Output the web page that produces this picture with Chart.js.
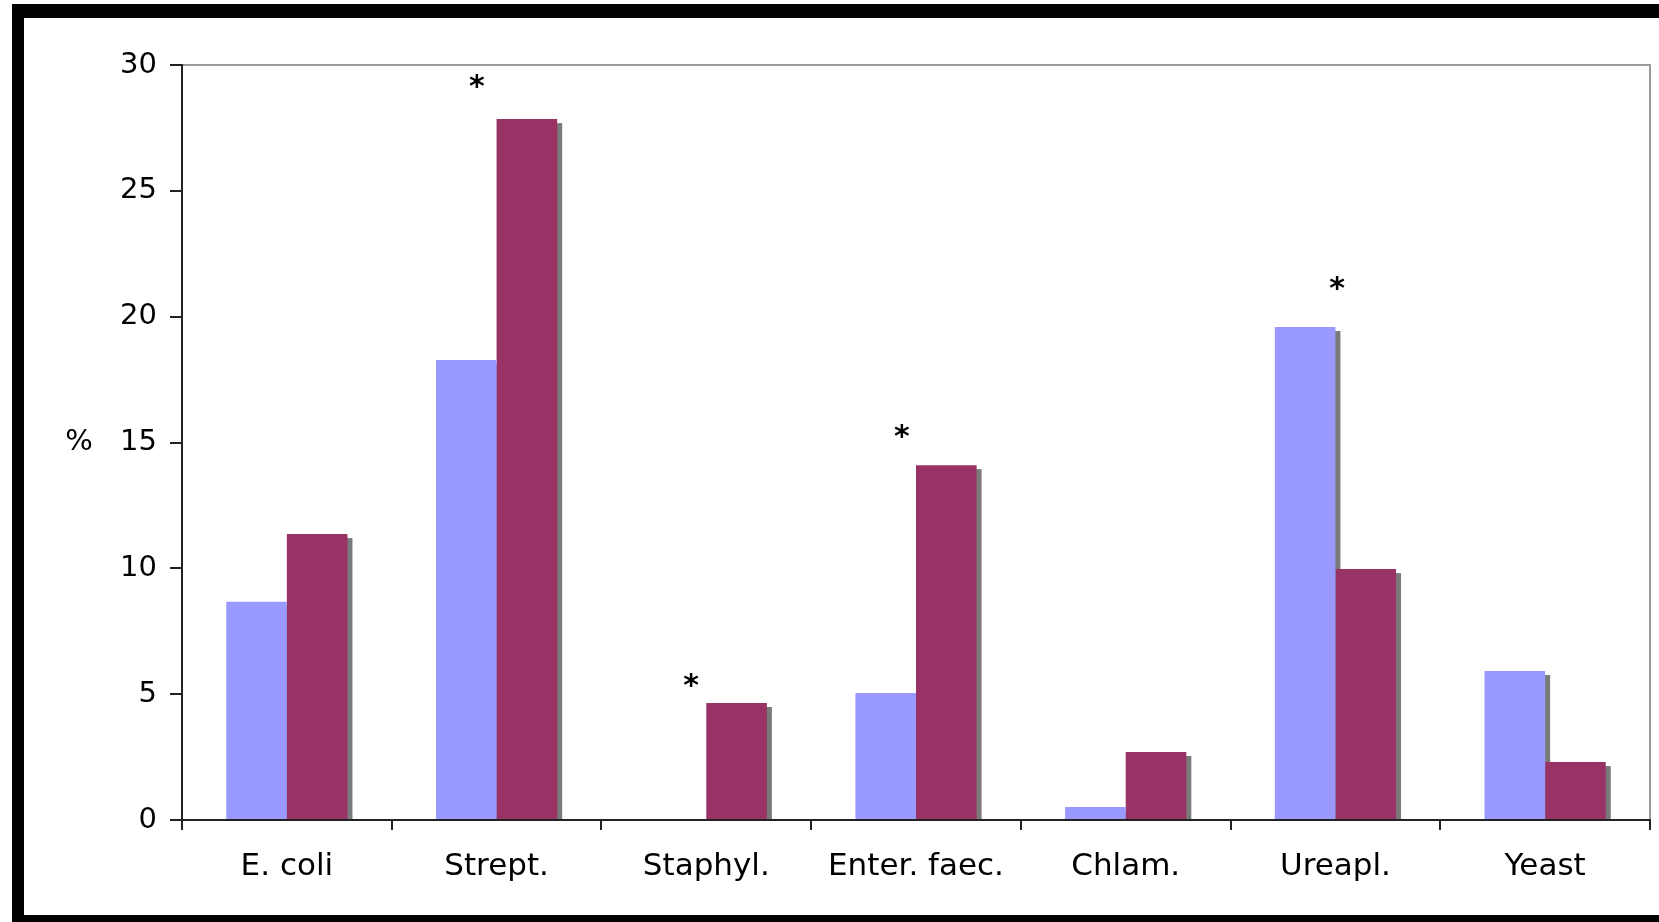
<!DOCTYPE html>
<html>
<head>
<meta charset="utf-8">
<script src="https://cdn.jsdelivr.net/npm/chart.js@4"></script>
<style>
  html, body { margin: 0; padding: 0; background: #fff; overflow: hidden; }
  #frame {
    position: absolute; left: 12px; top: 4px; width: 1700px; height: 925px;
    box-sizing: border-box; border: solid #000; border-width: 14px 0 14px 12px;
  }
  #wrap { position: absolute; left: 0; top: 0; width: 1659px; height: 922px; }
</style>
</head>
<body>
<div id="frame"></div>
<div id="wrap"><canvas id="chart"></canvas></div>
<script>
  const categories = ["E. coli", "Strept.", "Staphyl.", "Enter. faec.", "Chlam.", "Ureapl.", "Yeast"];
  const seriesA = [8.67, 18.28, 0, 5.05, 0.52, 19.59, 5.92];
  const seriesB = [11.36, 27.85, 4.65, 14.1, 2.7, 9.97, 2.3];
  const yTicks = [0, 5, 10, 15, 20, 25, 30];

  // significance marks: category, shift within category, height
  const starCats = [1, 2, 3, 5];
  const starShift = [-0.094, -0.073, -0.067, 0.008];
  const starValues = [29.3, 5.5, 15.4, 21.3];

  const FONT = "'DejaVu Sans', Verdana, sans-serif";

  // gray drop shadow behind every bar, all drawn before the bars themselves
  const barShadow = {
    id: "barShadow",
    beforeDatasetsDraw(chart) {
      const ctx = chart.ctx;
      ctx.save();
      ctx.fillStyle = "#7a7a7a";
      chart.data.datasets.forEach((ds, di) => {
        chart.getDatasetMeta(di).data.forEach((bar) => {
          const p = bar.getProps(["x", "y", "base", "width"], true);
          const h = p.base - p.y;
          if (h <= 0) return;
          ctx.fillRect(p.x - p.width / 2 + 5, p.y + 4, p.width, h - 4);
        });
      });
      ctx.restore();
    },
  };

  const extras = {
    id: "extras",
    beforeDraw(chart) {
      const { ctx, chartArea: a } = chart;
      ctx.save();
      ctx.strokeStyle = "#9a9a9a";
      ctx.lineWidth = 2;
      ctx.beginPath();
      ctx.moveTo(a.left, a.top);
      ctx.lineTo(a.right, a.top);
      ctx.lineTo(a.right, a.bottom);
      ctx.stroke();
      ctx.restore();
    },
    afterDraw(chart) {
      const { ctx, chartArea: a, scales } = chart;
      const x = scales.x, y = scales.y;
      const w = (a.right - a.left) / categories.length;
      ctx.save();
      ctx.fillStyle = "#000";
      ctx.textAlign = "center";
      ctx.textBaseline = "middle";
      ctx.font = "bold 30px " + FONT;
      starCats.forEach((c, i) => {
        ctx.fillText("*", x.getPixelForValue(c) + starShift[i] * w, y.getPixelForValue(starValues[i]) + 6);
      });
      ctx.font = "29px " + FONT;
      ctx.fillText("%", 79, y.getPixelForValue(15));
      ctx.restore();
    },
  };

  new Chart(document.getElementById("chart"), {
    type: "bar",
    data: {
      labels: categories,
      datasets: [
        { data: seriesA, backgroundColor: "#9999ff", categoryPercentage: 0.578, barPercentage: 1 },
        { data: seriesB, backgroundColor: "#993366", categoryPercentage: 0.578, barPercentage: 1 },
      ],
    },
    options: {
      responsive: true,
      maintainAspectRatio: false,
      animation: false,
      devicePixelRatio: 1,
      layout: { padding: { top: 65, right: 9, left: 0, bottom: 0 } },
      plugins: { legend: { display: false }, tooltip: { enabled: false } },
      scales: {
        x: {
          z: 1,
          border: { color: "#222", width: 2 },
          grid: { drawOnChartArea: false, drawTicks: true, tickLength: 10, color: "#222", lineWidth: 2 },
          ticks: { color: "#000", font: { family: FONT, size: 31 }, padding: 18, maxRotation: 0, autoSkip: false },
          afterFit: (s) => { s.height = 102; },
        },
        y: {
          z: 1,
          min: 0,
          max: 30,
          afterBuildTicks: (s) => { s.ticks = yTicks.map((v) => ({ value: v })); },
          border: { color: "#222", width: 2 },
          grid: { drawOnChartArea: false, drawTicks: true, tickLength: 12, color: "#222", lineWidth: 2 },
          ticks: { color: "#000", font: { family: FONT, size: 29 }, padding: 13 },
          afterFit: (s) => { s.width = 182; },
        },
      },
    },
    plugins: [barShadow, extras],
  });
</script>
</body>
</html>
